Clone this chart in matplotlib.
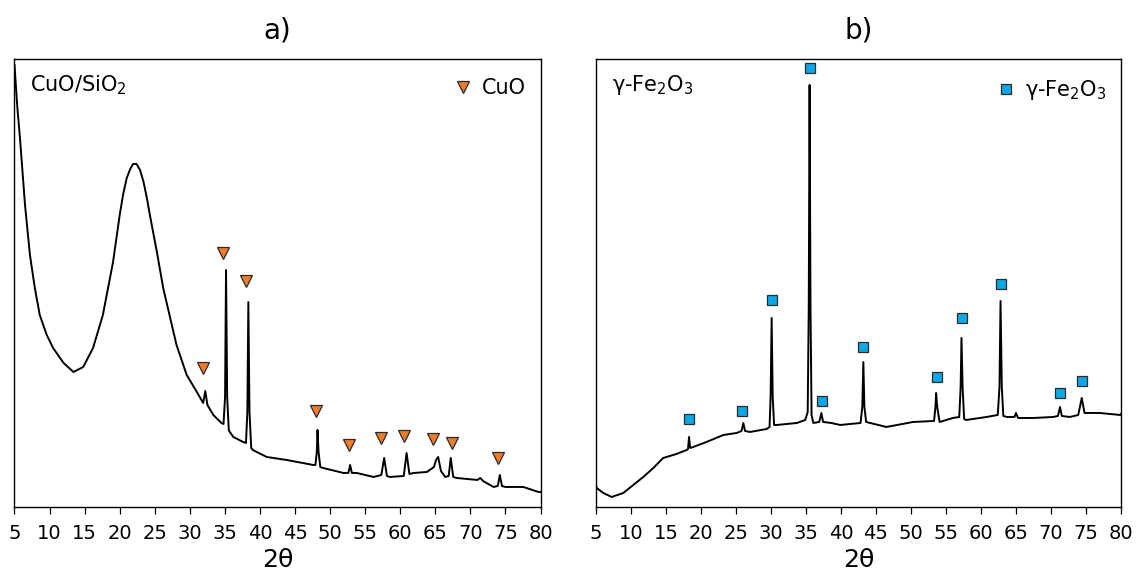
import matplotlib
matplotlib.use("Agg")
import matplotlib.pyplot as plt
from matplotlib.lines import Line2D

# ---------------- data ----------------
# Panel a) CuO/SiO2 pattern: 2-theta and intensity (arbitrary units)
cuo_2theta = [5.0, 5.4, 5.78, 6.5, 7.2, 7.9, 8.6, 9.6, 10.5, 12.0, 13.4, 14.8, 16.2,
              17.6, 19.05, 20.0, 20.5, 21.0, 21.5, 21.9, 22.4, 22.9, 23.4, 23.9, 24.3,
              25.3, 26.2, 27.2, 28.1,
              29.55, 31.0, 31.9, 32.2, 32.5, 33.35, 34.5, 34.8, 35.02, 35.16, 35.32,
              35.55, 35.7, 36.2, 37.6, 38.0, 38.2, 38.34, 38.5, 38.75, 38.97, 40.96,
              43.8, 47.6, 47.9, 48.1, 48.2, 48.35, 48.6, 49.0, 51.9, 52.6, 52.85, 53.1,
              53.8, 56.2, 57.3, 57.7, 58.1, 58.5, 60.5, 60.9, 61.3, 61.9, 63.8, 64.8,
              65.1, 65.4, 65.8, 66.4, 66.9, 67.2, 67.55, 68.05, 71.0, 71.4, 71.8, 73.3,
              73.9, 74.2, 74.5, 75.0, 77.55, 79.7, 80.0]
cuo_intensity = [442, 400, 369, 302, 252, 219, 192, 172, 159, 144, 135, 140, 159,
                 192, 245, 292, 313, 329, 338, 343, 343, 337, 325, 308, 292,
                 255, 219, 189, 162,
                 132, 115, 104, 116, 102, 92, 84, 83, 110, 237, 110,
                 77, 75, 70, 65, 64, 95, 205, 95, 59, 57, 50,
                 47, 42, 42, 55, 77, 55, 40, 39, 34, 34, 42, 34,
                 34, 30, 32, 49, 31, 30, 31, 54, 33, 34, 35, 40,
                 47, 50, 36, 30, 31, 49, 30, 29, 27, 29, 26, 20,
                 21, 32, 21, 20, 20, 15, 15]
# CuO reflection markers
cuo_mark_2theta = [31.88, 34.77, 37.97, 47.95, 52.7, 57.3, 60.58, 64.63, 67.34, 73.99]
cuo_mark_height = [139, 254, 226, 96, 62, 69, 71, 68, 64, 49]

# Panel b) gamma-Fe2O3 pattern
fe_2theta = [5.0, 5.1, 6.05, 7.24, 8.9, 10.33, 11.76, 13.2, 14.6, 16.5, 17.96, 18.15,
             18.3, 18.45, 18.9, 20.8, 23.2, 25.1, 25.8, 26.05, 26.3, 27.0, 29.4, 29.8,
             29.95, 30.1, 30.25, 30.45, 30.8, 33.7, 34.9, 35.25, 35.4, 35.52, 35.65,
             35.8, 36.05, 36.9, 37.2, 37.45, 38.6, 39.9, 42.8, 43.05, 43.2, 43.35,
             43.6, 46.5, 50.3, 53.3, 53.5, 53.6, 53.75, 54.1, 56.0, 56.9, 57.1, 57.22,
             57.38, 57.6, 57.9, 60.8, 62.4, 62.65, 62.8, 62.98, 63.2, 63.7, 64.8, 65.0,
             65.3, 67.5, 70.3, 71.0, 71.3, 71.55, 72.7, 73.9, 74.4, 74.8, 75.1, 77.0,
             79.9, 80.0]
fe_intensity = [22, 19, 14, 10, 14, 22, 30, 39, 49, 53, 57, 58,
                70, 59, 60, 65, 72, 74, 76, 84, 76, 75, 78, 80,
                110, 189, 110, 82, 82, 84, 87, 95, 200, 422, 200,
                92, 84, 85, 94, 85, 84, 82, 84, 100, 145, 100,
                85, 80, 85, 86, 100, 114, 100, 85, 89, 90, 120, 169,
                120, 88, 87, 90, 92, 120, 206, 120, 91, 90, 90, 94,
                89, 89, 90, 91, 100, 91, 90, 92, 109, 94, 94, 94,
                92, 93]
fe_mark_2theta = [18.29, 25.9, 30.14, 35.64, 37.36, 43.19, 53.67, 57.24, 62.81, 71.36, 74.43]
fe_mark_height = [88, 96, 207, 439, 106, 160, 130, 189, 223, 114, 126]

x_ticks = [5, 10, 15, 20, 25, 30, 35, 40, 45, 50, 55, 60, 65, 70, 75, 80]
panel_titles = ["a)", "b)"]
sample_labels = ["CuO/SiO$_2$", "γ-Fe$_2$O$_3$"]
legend_labels = ["CuO", "γ-Fe$_2$O$_3$"]
x_label = "2θ"

# ---------------- styling ----------------
plt.rcParams['font.family'] = ['DejaVu Sans']
plt.rcParams['mathtext.fontset'] = 'dejavusans'
ORANGE = '#F07C2A'
BLUE = '#0FA8E6'
EDGE = '#2a2a2a'

fig = plt.figure(figsize=(11.38, 5.83), dpi=100)
ax_a = fig.add_axes([0.01274, 0.1304, 0.475 - 0.01274, 0.8988 - 0.1304])
ax_b = fig.add_axes([0.5237, 0.1304, 0.985 - 0.5237, 0.8988 - 0.1304])

panels = [
    (ax_a, cuo_2theta, cuo_intensity, cuo_mark_2theta, cuo_mark_height, 'v', ORANGE, 8.5),
    (ax_b, fe_2theta, fe_intensity, fe_mark_2theta, fe_mark_height, 's', BLUE, 6.5),
]

for i, (ax, xs, ys, mx, my, mk, mc, ms) in enumerate(panels):
    ax.plot(xs, ys, color='black', lw=1.4, solid_joinstyle='round')
    ax.plot(mx, my, linestyle='none', marker=mk, markersize=ms,
            markerfacecolor=mc, markeredgecolor=EDGE, markeredgewidth=0.9)
    ax.set_xlim(5, 80)
    ax.set_ylim(0, 448)
    ax.set_xticks(x_ticks)
    ax.set_xticklabels([str(t) for t in x_ticks])
    ax.set_yticks([])
    ax.tick_params(axis='x', direction='out', length=5, width=0.9,
                   labelsize=14, pad=7, colors='black')
    for sp in ax.spines.values():
        sp.set_linewidth(1.0)
        sp.set_color('black')
    ax.set_xlabel(x_label, fontsize=18, labelpad=4)
    ax.set_title(panel_titles[i], fontsize=20, pad=15)
    ax.text(0.03, 0.942, sample_labels[i], transform=ax.transAxes,
            fontsize=15, ha='left', va='center')
    handle = Line2D([], [], linestyle='none', marker=mk, markersize=ms,
                    markerfacecolor=mc, markeredgecolor=EDGE, markeredgewidth=0.9)
    ax.legend([handle], [legend_labels[i]], loc='upper right', frameon=False,
              fontsize=15, handlelength=0.8, handletextpad=0.5,
              borderaxespad=0.3, bbox_to_anchor=(1.0, 0.99))

fig.savefig('out.png', dpi=100)
